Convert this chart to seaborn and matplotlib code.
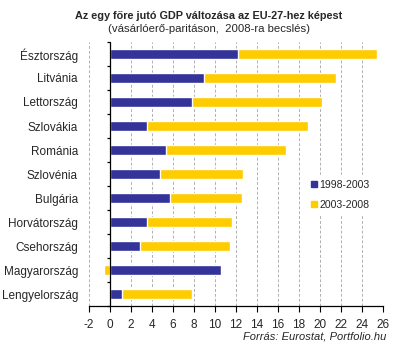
import numpy as np
import pandas as pd
import matplotlib
matplotlib.use("Agg")
import matplotlib.pyplot as plt
from matplotlib.lines import Line2D
import seaborn as sns

# Data (percentage points of EU-27 average)
countries = ["Észtország", "Litvánia", "Lettország", "Szlovákia", "Románia",
             "Szlovénia", "Bulgária", "Horvátország", "Csehország",
             "Magyarország", "Lengyelország"]
change_1998_2003 = [12.2, 9.0, 7.8, 3.5, 5.3, 4.8, 5.7, 3.5, 2.9, 10.6, 1.1]
change_2003_2008 = [13.2, 12.5, 12.4, 15.4, 11.5, 7.9, 6.9, 8.1, 8.5, -0.6, 6.7]
xticks = list(range(-2, 27, 2))

blue = "#333399"
yellow = "#FFCC00"

df = pd.DataFrame({"country": countries,
                   "p1": change_1998_2003,
                   "p2": change_2003_2008})
# stacked: positive second period continues after the first one,
# a negative one goes left from zero
df["p2_end"] = np.where(df["p2"] > 0, df["p1"] + df["p2"], df["p2"])

sns.set_style("white")
plt.rcParams["font.family"] = ["Liberation Sans", "DejaVu Sans"]

fig = plt.figure(figsize=(3.98, 3.55), dpi=100)
ax = fig.add_axes([0.2236, 0.138, 0.7384, 0.7437])

sns.barplot(data=df, x="p2_end", y="country", orient="h", color=yellow,
            saturation=1, width=0.42, ax=ax, zorder=3)
sns.barplot(data=df, x="p1", y="country", orient="h", color=blue,
            saturation=1, width=0.42, ax=ax, zorder=4)

ax.set_xlim(-2, 26)
ax.set_ylim(len(countries) - 0.5, -0.5)
ax.set_xticks(xticks)
ax.set_xticklabels([str(t) for t in xticks], fontsize=8.5)
ax.set_xlabel("")
ax.set_ylabel("")
ax.tick_params(axis="y", length=0, pad=8, labelsize=8.5)
ax.tick_params(axis="x", direction="out", length=4, width=0.8,
               color="black", bottom=True, pad=5)

ax.grid(axis="x", color="#b0b0b0", linestyle=(0, (3, 2)), linewidth=0.7, zorder=0)
ax.grid(axis="y", visible=False)
for s in ["left", "right", "top"]:
    ax.spines[s].set_visible(False)
ax.spines["bottom"].set_color("black")
ax.spines["bottom"].set_linewidth(0.9)

# vertical axis at zero with category separator ticks
ax.axvline(0, color="black", lw=0.9, zorder=5)
ax.hlines(np.arange(len(countries) + 1) - 0.5, -0.3, 0, color="black",
          lw=0.9, zorder=5, clip_on=False)

handles = [Line2D([], [], marker="s", ls="", color=blue, markersize=4),
           Line2D([], [], marker="s", ls="", color=yellow, markersize=4)]
leg = ax.legend(handles, ["1998-2003", "2003-2008"], loc="upper left",
                bbox_to_anchor=(0.72, 0.515), frameon=True, fontsize=7.6,
                handletextpad=0.05, handlelength=0.8, labelspacing=0.95,
                borderpad=0.4)
leg.get_frame().set_edgecolor("white")
leg.get_frame().set_facecolor("white")
leg.get_frame().set_alpha(1)
leg.set_zorder(6)

fig.text(0.525, 0.956, "Az egy főre jutó GDP változása az EU-27-hez képest",
         ha="center", va="center", fontsize=7.8, fontweight="bold")
fig.text(0.525, 0.919, "(vásárlóerő-paritáson,  2008-ra becslés)",
         ha="center", va="center", fontsize=8.2)
fig.text(0.97, 0.051, "Forrás: Eurostat, Portfolio.hu", ha="right",
         va="center", fontsize=8, style="italic")

fig.savefig("out.png", dpi=100, facecolor="white")
